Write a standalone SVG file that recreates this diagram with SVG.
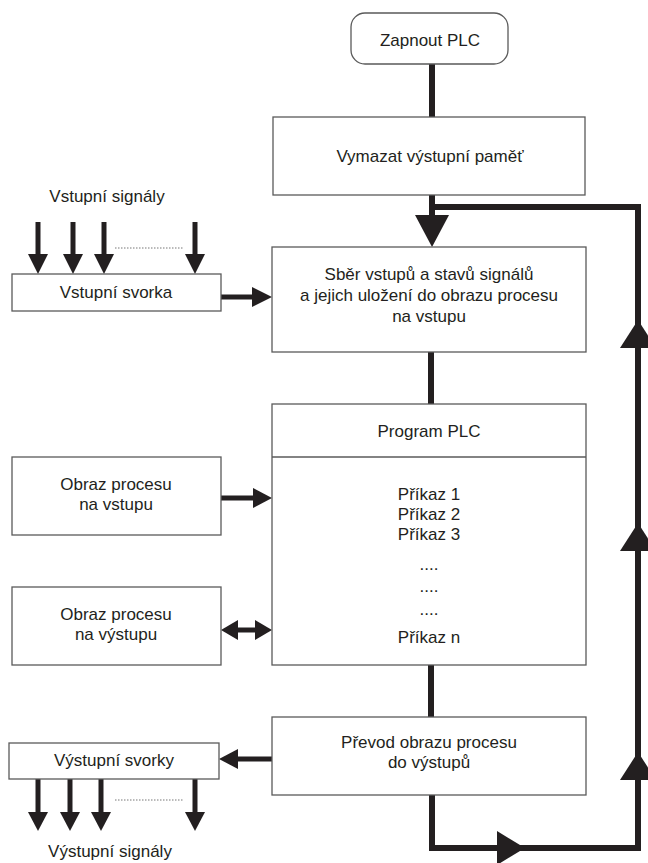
<svg xmlns="http://www.w3.org/2000/svg" width="648" height="863" viewBox="0 0 648 863">
  <style>
    .box { fill: #ffffff; stroke: #5a5a5a; stroke-width: 1.3; }
    .lbl { font-family: "Liberation Sans", Arial, sans-serif; font-size: 17px; fill: #231f20; text-anchor: middle; }
    .flow { fill: none; stroke: #231f20; stroke-width: 6; stroke-linejoin: miter; stroke-linecap: butt; }
    .sig { fill: none; stroke: #231f20; stroke-width: 5; }
    .head { fill: #231f20; }
    .dots { stroke: #777; stroke-width: 1; stroke-dasharray: 1.5 1.5; }
  </style>
  <rect width="648" height="863" fill="#ffffff"/>

  <!-- connectors -->
  <g id="connectors">
    <line class="flow" x1="432" y1="64" x2="432" y2="117"/>
    <line class="flow" x1="432" y1="195" x2="432" y2="222"/>
    <polygon class="head" points="415,215 449,215 432,247"/>
    <!-- return loop from output stage back to input scan -->
    <path class="flow" d="M432,795 V848 H638 V207 H432"/>
    <polygon class="head" points="497,831 497,865 525,848"/>
    <polygon class="head" points="638,320 620,348 656,348"/>
    <polygon class="head" points="638,523 620,551 656,551"/>
    <polygon class="head" points="638,752 620,780 656,780"/>
    <line class="flow" x1="431" y1="352" x2="431" y2="404"/>
    <line class="flow" x1="431" y1="665" x2="431" y2="717"/>

    <!-- input terminal to scan block -->
    <line class="sig" x1="221" y1="297" x2="256" y2="297"/>
    <polygon class="head" points="252,287 252,307 272,297"/>
    <!-- input signals -->
    <line class="sig" x1="38" y1="222" x2="38" y2="258"/>
    <polygon class="head" points="28,254 48,254 38,274"/>
    <line class="sig" x1="73" y1="222" x2="73" y2="258"/>
    <polygon class="head" points="63,254 83,254 73,274"/>
    <line class="sig" x1="104" y1="222" x2="104" y2="258"/>
    <polygon class="head" points="94,254 114,254 104,274"/>
    <line class="sig" x1="195" y1="222" x2="195" y2="258"/>
    <polygon class="head" points="185,254 205,254 195,274"/>
    <line class="dots" x1="115" y1="248" x2="183" y2="248"/>

    <!-- process image of inputs to program -->
    <line class="sig" x1="221" y1="498" x2="256" y2="498"/>
    <polygon class="head" points="253,488 253,508 272,498"/>
    <!-- process image of outputs, both ways -->
    <line class="sig" x1="236" y1="630" x2="257" y2="630"/>
    <polygon class="head" points="238,620 238,640 221,630"/>
    <polygon class="head" points="255,620 255,640 272,630"/>

    <!-- output transfer to output terminals -->
    <line class="sig" x1="235" y1="759" x2="272" y2="759"/>
    <polygon class="head" points="238,749 238,769 219,759"/>
    <!-- output signals -->
    <line class="sig" x1="38" y1="779" x2="38" y2="815"/>
    <polygon class="head" points="28,812 48,812 38,831"/>
    <line class="sig" x1="70" y1="779" x2="70" y2="815"/>
    <polygon class="head" points="60,812 80,812 70,831"/>
    <line class="sig" x1="101" y1="779" x2="101" y2="815"/>
    <polygon class="head" points="91,812 111,812 101,831"/>
    <line class="sig" x1="195" y1="779" x2="195" y2="815"/>
    <polygon class="head" points="185,812 205,812 195,831"/>
    <line class="dots" x1="115" y1="800" x2="183" y2="800"/>
  </g>

  <g id="start">
    <rect class="box" x="351" y="13" width="157" height="51" rx="14"/>
    <text class="lbl" x="430" y="46">Zapnout PLC</text>
  </g>

  <g id="clear-output">
    <rect class="box" x="273" y="117" width="312" height="78"/>
    <text class="lbl" x="430" y="162">Vymazat výstupní paměť</text>
  </g>

  <g id="input-scan">
    <rect class="box" x="272" y="247" width="314" height="105"/>
    <text class="lbl" x="429" y="280">Sběr vstupů a stavů signálů</text>
    <text class="lbl" x="429" y="301">a jejich uložení do obrazu procesu</text>
    <text class="lbl" x="429" y="322">na vstupu</text>
  </g>

  <g id="program">
    <rect class="box" x="272" y="404" width="314" height="261"/>
    <line class="box" x1="272" y1="457" x2="586" y2="457"/>
    <text class="lbl" x="429" y="437">Program PLC</text>
    <text class="lbl" x="429" y="500">Příkaz 1</text>
    <text class="lbl" x="429" y="520">Příkaz 2</text>
    <text class="lbl" x="429" y="540">Příkaz 3</text>
    <text class="lbl" x="429" y="570">....</text>
    <text class="lbl" x="429" y="592">....</text>
    <text class="lbl" x="429" y="615">....</text>
    <text class="lbl" x="429" y="643">Příkaz n</text>
  </g>

  <g id="output-transfer">
    <rect class="box" x="272" y="717" width="314" height="78"/>
    <text class="lbl" x="429" y="748">Převod obrazu procesu</text>
    <text class="lbl" x="429" y="768">do výstupů</text>
  </g>

  <g id="input-signals">
    <text class="lbl" x="107" y="202">Vstupní signály</text>
  </g>

  <g id="input-terminal">
    <rect class="box" x="12" y="274" width="209" height="37"/>
    <text class="lbl" x="116" y="298">Vstupní svorka</text>
  </g>

  <g id="input-image">
    <rect class="box" x="12" y="457" width="209" height="78"/>
    <text class="lbl" x="116" y="490">Obraz procesu</text>
    <text class="lbl" x="116" y="510">na vstupu</text>
  </g>

  <g id="output-image">
    <rect class="box" x="12" y="587" width="209" height="78"/>
    <text class="lbl" x="116" y="620">Obraz procesu</text>
    <text class="lbl" x="116" y="640">na výstupu</text>
  </g>

  <g id="output-terminal">
    <rect class="box" x="9" y="743" width="210" height="36"/>
    <text class="lbl" x="114" y="766">Výstupní svorky</text>
  </g>

  <g id="output-signals">
    <text class="lbl" x="110" y="857">Výstupní signály</text>
  </g>
</svg>
